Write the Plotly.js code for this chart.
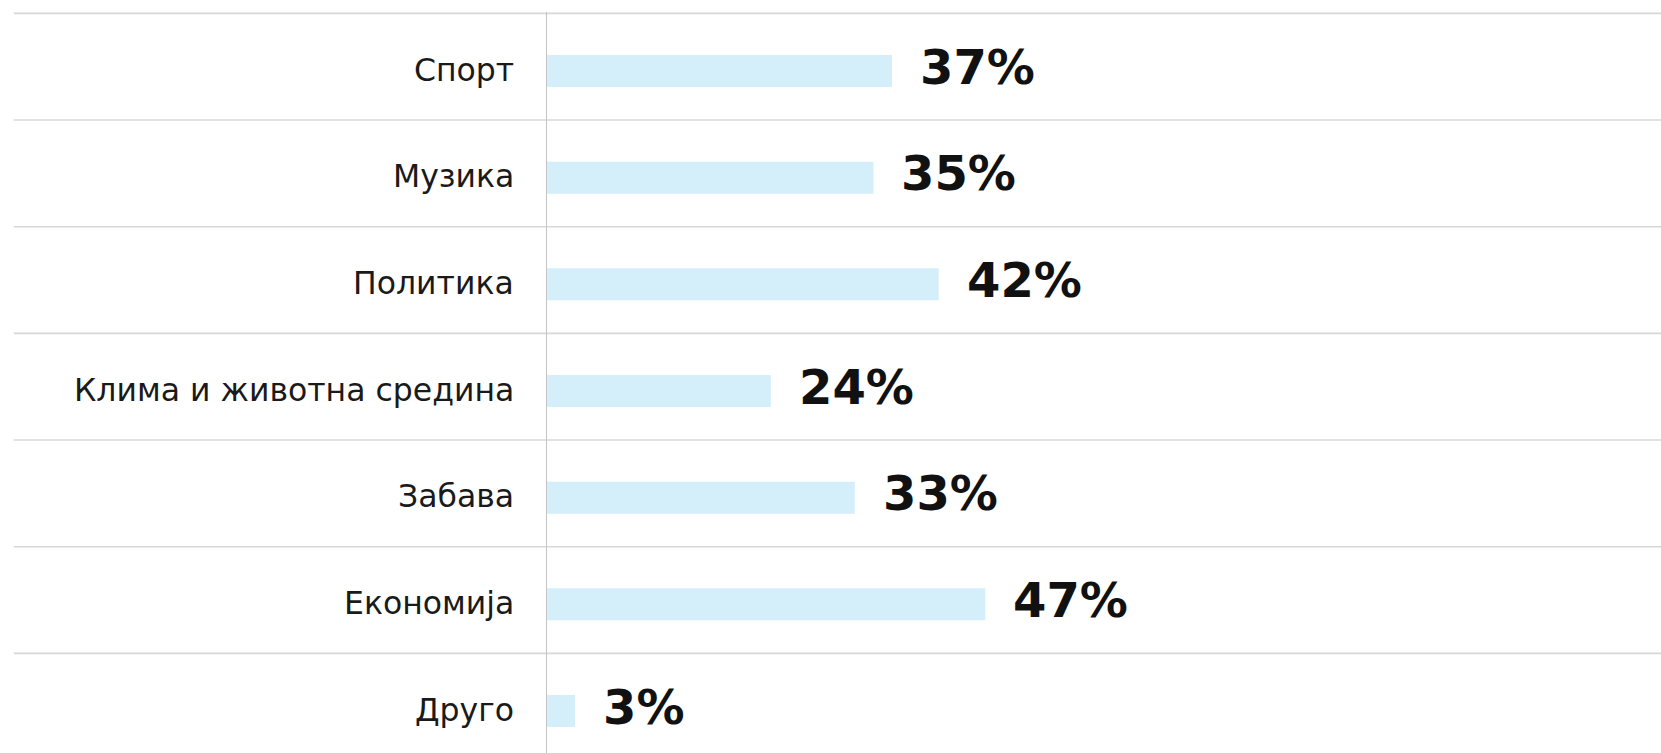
<!DOCTYPE html>
<html>
<head>
<meta charset="utf-8">
<script src="https://cdn.plot.ly/plotly-3.0.1.min.js"></script>
<style>
  html, body { margin: 0; padding: 0; background: #ffffff; }
  #chart { width: 1661px; height: 753px; }
</style>
</head>
<body>
<div id="chart"></div>
<script>
// Data
const categories = ["Спорт", "Музика", "Политика", "Клима и животна средина", "Забава", "Економија", "Друго"];
const values = [37, 35, 42, 24, 33, 47, 3];
const valueLabels = ["37%", "35%", "42%", "24%", "33%", "47%", "3%"];

const FONT = "'DejaVu Sans', 'Noto Sans', sans-serif";

const trace = {
  type: "bar",
  orientation: "h",
  y: categories,
  x: values,
  width: 0.3,
  offset: -0.11,
  marker: { color: "#d4eefa", line: { width: 0 } },
  hoverinfo: "skip",
  showlegend: false
};

// gridlines at category boundaries (through the y scale)
const shapes = categories.map((c, i) => ({
  type: "line",
  xref: "paper", yref: "y",
  x0: -0.4787, x1: 1,
  y0: i - 0.5, y1: i - 0.5,
  line: { color: "#d8d8d8", width: 1.6 },
  layer: "below"
}));

// category labels (left of the axis)
const catLabels = categories.map((c) => ({
  x: 0, y: c,
  xref: "paper", yref: "y",
  text: c,
  showarrow: false,
  xanchor: "right",
  yanchor: "middle",
  xshift: -31,
  yshift: -3,
  font: { family: FONT, size: 31.5, color: "#1a1a1a" }
}));

// value labels (right of each bar)
const valLabels = categories.map((c, i) => ({
  x: values[i],
  y: c,
  xref: "x", yref: "y",
  text: valueLabels[i],
  showarrow: false,
  xanchor: "left",
  yanchor: "middle",
  xshift: 26,
  yshift: 0,
  font: { family: FONT, size: 48, color: "#111111", weight: 700 }
}));

const layout = {
  width: 1661,
  height: 753,
  margin: { l: 546.5, r: 0, t: 12, b: 0, pad: 0, autoexpand: false },
  paper_bgcolor: "#ffffff",
  plot_bgcolor: "#ffffff",
  xaxis: {
    range: [0, 119.45],
    visible: false,
    showgrid: false,
    zeroline: false,
    fixedrange: true
  },
  yaxis: {
    type: "category",
    categoryorder: "array",
    categoryarray: categories,
    range: [6.434, -0.513],
    showgrid: false,
    zeroline: false,
    showline: true,
    linecolor: "#c4c4c4",
    linewidth: 1.5,
    ticks: "",
    showticklabels: false,
    fixedrange: true
  },
  shapes: shapes,
  annotations: catLabels.concat(valLabels),
  showlegend: false
};

Plotly.newPlot("chart", [trace], layout, { displayModeBar: false, staticPlot: true });
</script>
</body>
</html>
